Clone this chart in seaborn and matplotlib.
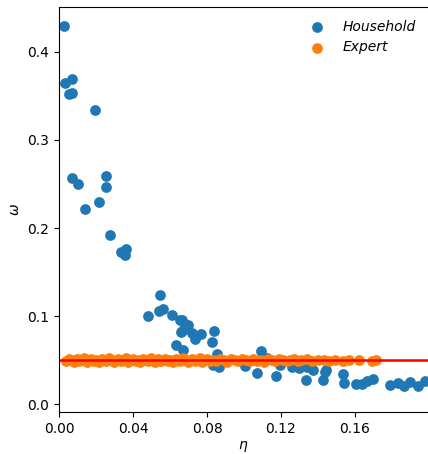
import numpy as np
import pandas as pd
import matplotlib
matplotlib.use("Agg")
import matplotlib.pyplot as plt
import seaborn as sns

# household survey points (eta, omega)
household_eta = [
    0.0027, 0.0032, 0.0054, 0.0070, 0.0070, 0.0195, 0.0070, 0.0103, 0.0140, 0.0216,
    0.0254, 0.0254, 0.0276, 0.0335, 0.0360, 0.0357, 0.0480, 0.0546, 0.0540, 0.0560,
    0.0610, 0.0654, 0.0630, 0.0660, 0.0665, 0.0697, 0.0670, 0.0719, 0.0735, 0.0768,
    0.0838, 0.0827, 0.0670, 0.0854, 0.0832, 0.0865, 0.0850, 0.1005, 0.1092, 0.1070,
    0.1124, 0.1173, 0.1195, 0.1260, 0.1297, 0.1335, 0.1340, 0.1373, 0.1443, 0.1427,
    0.1440, 0.1535, 0.1540, 0.1605, 0.1638, 0.1665, 0.1697, 0.1790, 0.1832, 0.1865,
    0.1897, 0.1940, 0.1978,
]
household_omega = [
    0.430, 0.365, 0.352, 0.353, 0.369, 0.334, 0.257, 0.250, 0.222, 0.230,
    0.259, 0.247, 0.192, 0.173, 0.176, 0.169, 0.100, 0.124, 0.106, 0.108,
    0.101, 0.095, 0.067, 0.082, 0.095, 0.090, 0.084, 0.081, 0.074, 0.080,
    0.083, 0.070, 0.061, 0.057, 0.044, 0.042, 0.047, 0.043, 0.060, 0.035,
    0.052, 0.032, 0.044, 0.042, 0.041, 0.027, 0.042, 0.039, 0.039, 0.027,
    0.037, 0.034, 0.024, 0.023, 0.023, 0.026, 0.029, 0.022, 0.024, 0.021,
    0.025, 0.021, 0.026,
]

# expert estimates, all close to omega = 0.05
expert_eta = [
    0.0040, 0.0055, 0.0070, 0.0080, 0.0095, 0.0110, 0.0120, 0.0135, 0.0150, 0.0160,
    0.0175, 0.0190, 0.0200, 0.0215, 0.0230, 0.0240, 0.0255, 0.0270, 0.0280, 0.0295,
    0.0310, 0.0320, 0.0335, 0.0350, 0.0360, 0.0375, 0.0390, 0.0400, 0.0415, 0.0430,
    0.0440, 0.0455, 0.0470, 0.0480, 0.0495, 0.0510, 0.0520, 0.0535, 0.0550, 0.0560,
    0.0575, 0.0590, 0.0600, 0.0615, 0.0630, 0.0640, 0.0655, 0.0670, 0.0680, 0.0695,
    0.0710, 0.0720, 0.0735, 0.0750, 0.0760, 0.0775, 0.0790, 0.0800, 0.0815, 0.0830,
    0.0850, 0.0870, 0.0890, 0.0910, 0.0930, 0.0950, 0.0970, 0.0990, 0.1010, 0.1030,
    0.1050, 0.1070, 0.1090, 0.1110, 0.1130, 0.1150, 0.1170, 0.1190, 0.1210, 0.1230,
    0.1250, 0.1270, 0.1290, 0.1310, 0.1340, 0.1370, 0.1400, 0.1430, 0.1460, 0.1490,
    0.1535, 0.1570, 0.1620, 0.1690, 0.1715,
]
expert_omega = [
    0.049, 0.051, 0.050, 0.048, 0.051, 0.049, 0.050, 0.052, 0.048, 0.050,
    0.051, 0.049, 0.050, 0.048, 0.051, 0.050, 0.049, 0.052, 0.050, 0.048,
    0.050, 0.051, 0.049, 0.050, 0.052, 0.048, 0.050, 0.051, 0.049, 0.050,
    0.048, 0.051, 0.050, 0.049, 0.052, 0.050, 0.048, 0.051, 0.049, 0.050,
    0.051, 0.049, 0.050, 0.048, 0.051, 0.050, 0.049, 0.052, 0.050, 0.048,
    0.050, 0.051, 0.049, 0.050, 0.052, 0.048, 0.050, 0.051, 0.049, 0.050,
    0.049, 0.051, 0.050, 0.048, 0.051, 0.050, 0.049, 0.051, 0.050, 0.049,
    0.051, 0.049, 0.050, 0.048, 0.051, 0.050, 0.049, 0.051, 0.050, 0.049,
    0.050, 0.051, 0.049, 0.050, 0.051, 0.049, 0.050, 0.050, 0.049, 0.050,
    0.049, 0.050, 0.050, 0.049, 0.050,
]
omega_ref = 0.05

fig = plt.figure(figsize=(4.28, 4.54), dpi=100)
ax = fig.add_axes([0.138, 0.0925, 0.862, 0.892])

sns.scatterplot(x=household_eta, y=household_omega, ax=ax, color="tab:blue",
                s=60, linewidth=0, label=r"Household")
sns.scatterplot(x=expert_eta, y=expert_omega, ax=ax, color="tab:orange",
                s=60, linewidth=0, label=r"Expert")
ax.axhline(omega_ref, color="red", linewidth=1.8)

ax.set_xlim(0, 0.1995)
ax.set_ylim(-0.009, 0.451)
ax.set_xticks([0.0, 0.04, 0.08, 0.12, 0.16])
ax.set_xticklabels(["0.00", "0.04", "0.08", "0.12", "0.16"])
ax.set_yticks([0.0, 0.1, 0.2, 0.3, 0.4])
ax.set_xlabel(r"$\eta$", labelpad=2)
ax.set_ylabel(r"$\omega$")
ax.spines["right"].set_visible(False)

ax.legend(loc="upper right", frameon=False, prop={"style": "italic", "size": 10})

fig.savefig("out.png", dpi=100)
